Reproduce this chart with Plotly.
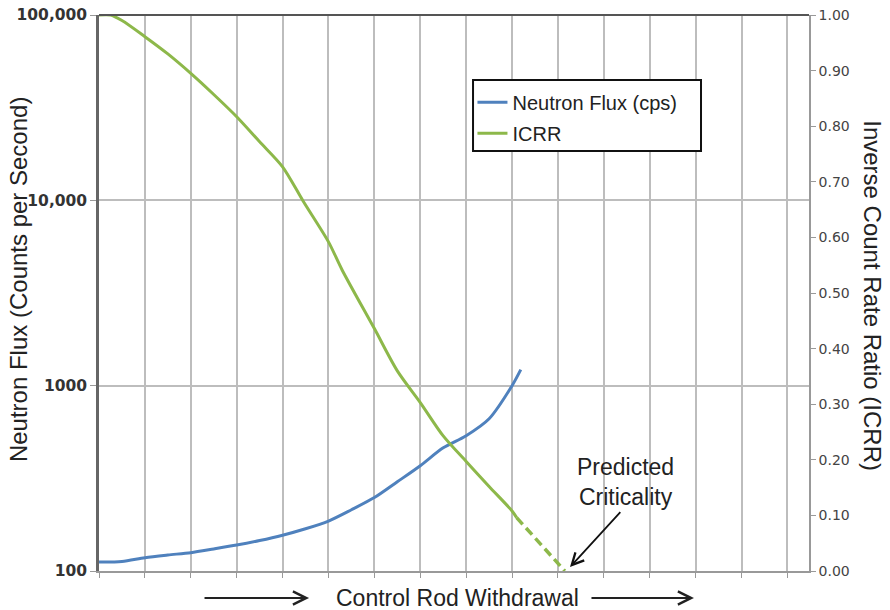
import plotly.graph_objects as go

# ---- data ----
flux_pos = [0, 0.5, 1.0, 1.5, 2.0, 2.5, 3.0, 3.5, 4.0, 4.5, 5.0, 5.5, 6.0, 6.5,
            7.0, 7.5, 8.0, 8.5, 9.0, 9.19]
flux_cps = [111.8, 112.5, 118, 122, 125.6, 131.5, 138, 146, 156, 169, 186, 214,
            249, 303, 370, 462, 537, 663, 1000, 1220]

icrr_pos = [0, 0.25, 0.5, 1.0, 1.5, 2.0, 2.5, 3.0, 3.5, 4.0, 4.45, 5.0, 5.3, 6.0,
            6.5, 7.0, 7.5, 8.0, 8.5, 9.0, 9.1]
icrr_val = [1.0, 1.0, 0.99, 0.961, 0.93, 0.895, 0.857, 0.817, 0.772, 0.727, 0.665,
            0.592, 0.541, 0.436, 0.36, 0.303, 0.243, 0.197, 0.152, 0.108, 0.096]

pred_pos = [9.1, 10.15]
pred_icrr = [0.096, 0.0]

left_tickvals = [100, 1000, 10000, 100000]
left_ticktext = ["100", "1000", "10,000", "100,000"]

BLUE = "#4F81BD"
GREEN = "#8DB84A"
FONT = "Liberation Sans, Arial, sans-serif"
GRID = "#bdbdbd"

fig = go.Figure()
fig.add_trace(go.Scatter(x=flux_pos, y=flux_cps, mode="lines", name="Neutron Flux (cps)",
                         line=dict(color=BLUE, width=3, shape="spline", smoothing=0.8),
                         legendgroup="a", yaxis="y"))
fig.add_trace(go.Scatter(x=icrr_pos, y=icrr_val, mode="lines", name="ICRR",
                         line=dict(color=GREEN, width=3, shape="spline", smoothing=0.8),
                         legendgroup="b", yaxis="y2"))
fig.add_trace(go.Scatter(x=pred_pos, y=pred_icrr, mode="lines", showlegend=False,
                         line=dict(color=GREEN, width=3.5, dash="9px,5px"),
                         yaxis="y2"))

fig.update_layout(
    width=890, height=610,
    margin=dict(l=99, r=81, t=15, b=39),
    paper_bgcolor="white", plot_bgcolor="white",
    font=dict(family=FONT, color="#222"),
    showlegend=True,
    legend=dict(x=0.526, y=0.878, xanchor="left", yanchor="top",
                bgcolor="rgba(0,0,0,0)", borderwidth=0,
                font=dict(size=20, family=FONT, color="#222"),
                traceorder="grouped", tracegroupgap=2),
    xaxis=dict(range=[0, 15.47], tick0=0, dtick=1, showticklabels=False,
               showgrid=True, gridcolor=GRID, gridwidth=1.5, automargin=False,
               ticks="outside", ticklen=5, tickcolor="#999",
               showline=True, linecolor="#999", linewidth=1.5, zeroline=False),
    yaxis=dict(type="log", range=[2, 5], tickvals=left_tickvals, ticktext=left_ticktext,
               showgrid=True, gridcolor=GRID, gridwidth=1.5, automargin=False,
               ticks="outside", ticklen=6, tickcolor="#999",
               showline=True, linecolor="#666", linewidth=2.5,
               tickfont=dict(family="DejaVu Sans", size=15.5, color="#333", weight="bold"),
               zeroline=False),
    yaxis2=dict(overlaying="y", side="right", range=[0, 1], tick0=0, dtick=0.1,
                tickformat=".2f", showgrid=False, zeroline=False, automargin=False,
                ticks="outside", ticklen=5, tickcolor="#999",
                showline=True, linecolor="#999", linewidth=1.5,
                tickfont=dict(family="DejaVu Sans", size=14, color="#444")),
)

# top border of the plot area and legend box
fig.add_shape(type="line", xref="paper", yref="paper", x0=0, x1=1, y0=1, y1=1,
              line=dict(color="#555", width=2))
fig.add_shape(type="rect", xref="paper", yref="paper",
              x0=0.5268, x1=0.8479, y0=0.7554, y1=0.8831,
              line=dict(color="#111", width=2), fillcolor="white", layer="above")

# axis titles
fig.add_annotation(text="Neutron Flux (Counts per Second)", xref="paper", yref="paper",
                   x=0, y=0.525, xshift=-81, xanchor="center", yanchor="middle",
                   textangle=-90, showarrow=False,
                   font=dict(size=24, family=FONT, color="#222"))
fig.add_annotation(text="Inverse Count Rate Ratio (ICRR)", xref="paper", yref="paper",
                   x=1, y=0.496, xshift=64, xanchor="center", yanchor="middle",
                   textangle=90, showarrow=False,
                   font=dict(size=24, family=FONT, color="#222"))
fig.add_annotation(text="Control Rod Withdrawal", xref="paper", yref="paper",
                   x=0.5056, y=-0.0486, xanchor="center", yanchor="middle",
                   showarrow=False,
                   font=dict(size=23, family=FONT, color="#222"))
# arrows beside the x label
for head_x, tail_dx in [(0.2958, -106), (0.838, -104)]:
    fig.add_annotation(text="", xref="paper", yref="paper", x=head_x, y=-0.0486,
                       ax=tail_dx, ay=0, showarrow=True, arrowhead=5, arrowsize=1.3,
                       arrowwidth=2, arrowcolor="#222")

# predicted criticality
fig.add_annotation(text="Predicted<br>Criticality", xref="paper", yref="paper",
                   x=0.7418, y=0.160, xanchor="center", yanchor="middle",
                   showarrow=False,
                   font=dict(size=23, family=FONT, color="#222"))
fig.add_annotation(text="", xref="paper", yref="paper", x=0.6634, y=0.0072,
                   ax=51.7, ay=-56.3, showarrow=True, arrowhead=5, arrowsize=1.3,
                   arrowwidth=1.8, arrowcolor="#111")

fig.write_html("out.html")
